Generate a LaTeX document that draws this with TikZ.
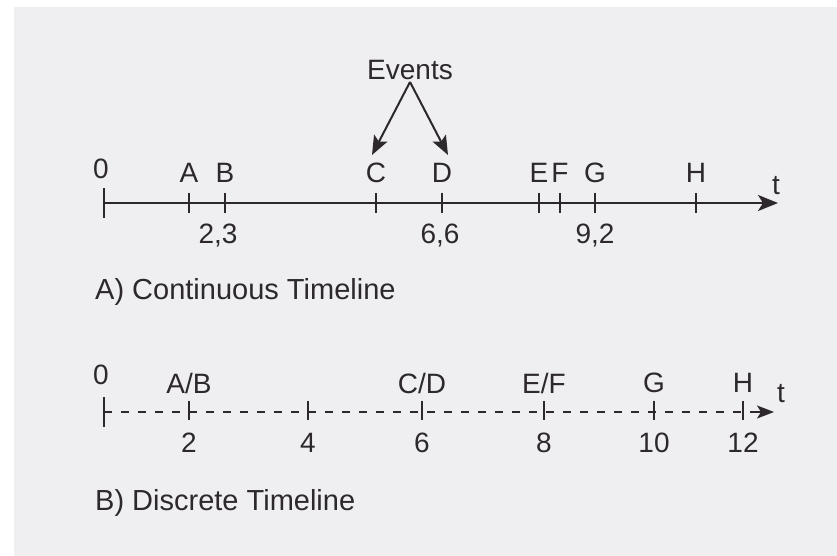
\documentclass[tikz,border=0pt]{standalone}
\usepackage{fontspec}
\setmainfont{Liberation Sans}
\usetikzlibrary{arrows.meta}
\definecolor{paper}{HTML}{EFEFF2}
\definecolor{ink}{HTML}{2C282C}
\begin{document}
\begin{tikzpicture}[x=1pt,y=-1pt,
  lbl/.style={font=\fontsize{28}{28}\selectfont, text=ink, inner sep=0pt},
  captext/.style={font=\fontsize{29}{29}\selectfont, text=ink, inner sep=0pt, anchor=west},
  axis/.style={draw=ink, line width=2.2pt},
  tickmark/.style={draw=ink, line width=2pt},
  evarrow/.style={draw=ink, line width=2pt, -{Stealth[length=19pt,width=15pt,inset=4pt]}}]
  % page
  \fill[white] (0,0) rectangle (837,556);
  \fill[paper] (14,7) rectangle (837,556);
  \useasboundingbox (0,0) rectangle (837,556);

  % ---------- A) continuous timeline ----------
  \coordinate (a0) at (104,203);
  \coordinate (aend) at (778,203);
  \draw[axis, -{Stealth[length=20pt,width=16pt,inset=5pt]}] (a0) -- (aend);
  \draw[tickmark] (104,188) -- (104,218);
  \foreach \x/\n in {189/A,225/B,376/C,442/D,539/E,560/F,595/G,696/H}{
    \draw[tickmark] (\x,193) -- (\x,213);
    \node[lbl] (lab\n) at (\x,173) {\n};
  }
  \node[lbl] (zeroA) at (101,169) {0};
  \node[lbl] (tA) at (776,186) {t};
  \node[lbl] (n23) at (218,236) {2,3};
  \node[lbl] (n66) at (440,236) {6,6};
  \node[lbl] (n92) at (595,236) {9,2};
  \node[lbl] (events) at (410,70) {Events};
  \coordinate (evC) at (372,155);
  \coordinate (evD) at (448,155);
  \draw[evarrow] (events.south) ++(0,2) -- (evC);
  \draw[evarrow] (events.south) ++(0,2) -- (evD);
  \node[captext] (capA) at (95,292) {A) Continuous Timeline};

  % ---------- B) discrete timeline ----------
  \coordinate (b0) at (104,412);
  \coordinate (bend) at (774,412);
  \draw[draw=ink, line width=1.6pt, dash pattern=on 8pt off 9pt] (b0) -- (757,412);
  \draw[draw=ink, line width=1.6pt, -{Stealth[length=17pt,width=13pt,inset=4pt]}] (756,412) -- (bend);
  \draw[tickmark] (104,397) -- (104,427);
  \foreach \x/\v/\n [count=\i] in {189/2/A\slash B,308/4/,422/6/C\slash D,544/8/E\slash F,654/10/G,743/12/H}{
    \draw[tickmark] (\x,401) -- (\x,420);
    \node[lbl] (num\i) at (\x,443) {\v};
    \node[lbl] (ev\i) at (\x,383) {\n};
  }
  \node[lbl] (zeroB) at (101,375) {0};
  \node[lbl] (tB) at (781,394) {t};
  \node[captext] (capB) at (95,503) {B) Discrete Timeline};
\end{tikzpicture}
\end{document}
